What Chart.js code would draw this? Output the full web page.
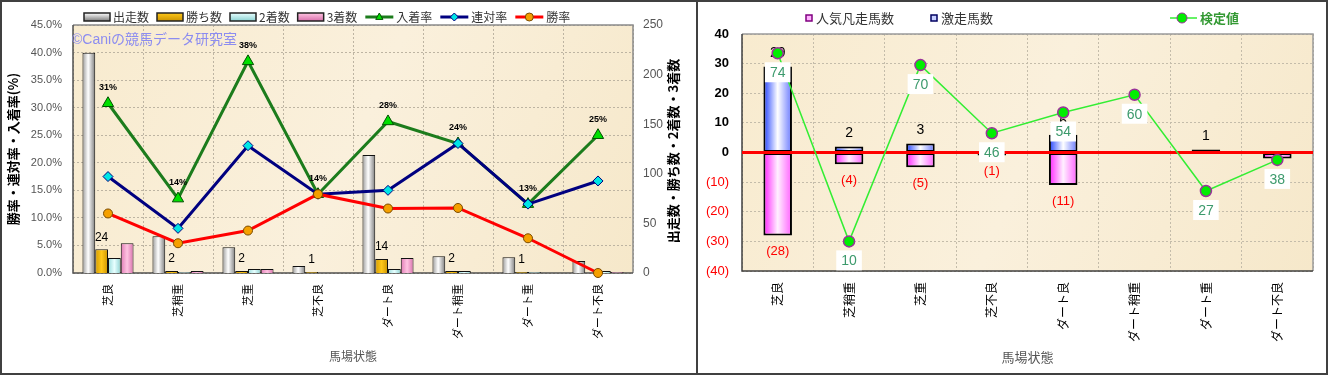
<!DOCTYPE html>
<html>
<head>
<meta charset="utf-8">
<script src="https://cdn.jsdelivr.net/npm/chart.js@4.4.1/dist/chart.umd.min.js"></script>
<style>
  html, body { margin: 0; padding: 0; background: #fff; }
  #wrap { width: 1328px; height: 375px; box-sizing: border-box; border: 2px solid #404040; display: flex; background: #fff; }
  #sep { width: 2px; height: 371px; background: #404040; }
  canvas { display: block; }
</style>
</head>
<body>
<div id="wrap">
  <canvas id="leftChart" width="694" height="371"></canvas>
  <div id="sep"></div>
  <canvas id="rightChart" width="628" height="371"></canvas>
</div>
<script>
// ---- data ----
const categories = ['芝良', '芝稍重', '芝重', '芝不良', 'ダート良', 'ダート稍重', 'ダート重', 'ダート不良'];

// left chart: counts (right axis) and rates in % (left axis)
const runners = [222, 37, 26, 7, 119, 17, 16, 12];
const wins = [24, 2, 2, 1, 14, 2, 1, 0];
const seconds = [15, 1, 4, 0, 4, 2, 1, 2];
const thirds = [30, 2, 4, 0, 15, 0, 0, 1];
const placeRate = [30.8, 13.5, 38.4, 14.3, 27.5, 23.5, 12.5, 25.0];
const quinellaRate = [17.5, 8.1, 23.1, 14.3, 15.0, 23.5, 12.5, 16.7];
const winRate = [10.8, 5.4, 7.7, 14.3, 11.7, 11.8, 6.3, 0];
const rateMax = 45, rateStep = 5;
const countMax = 250, countStep = 50;

// right chart
const flopHorses = [-28, -4, -5, -1, -11, 0, 0, -2];   // 人気凡走馬数
const upsetHorses = [29, 2, 3, 0, 6, 0, 1, 0];        // 激走馬数
const testPoint = [33.5, -30, 29.5, 6.5, 13.5, 19.5, -13, -2.5]; // 検定値 plotted position
const testValue = [74, 10, 70, 46, 54, 60, 27, 38];              // 検定値 label
const diffMin = -40, diffMax = 40, diffStep = 10;

const FONT = "'Liberation Sans', 'Noto Sans CJK JP', sans-serif";
const JP = "'Noto Sans CJK JP', sans-serif";

// horizontal "cylinder" gradient for each bar, position taken from the x scale
function barGrad(ctx, k, n, catPct, stops) {
  const flat = stops[1][1];
  if (ctx.type !== 'data') return flat;
  const chart = ctx.chart, xs = chart.scales.x;
  if (!xs || !xs.width) return flat;
  const step = xs.width / categories.length;
  const group = step * catPct;
  const w = group / n;
  const left = xs.getPixelForValue(ctx.dataIndex) - group / 2 + w * k;
  const g = chart.ctx.createLinearGradient(left, 0, left + w, 0);
  stops.forEach(s => g.addColorStop(s[0], s[1]));
  return g;
}

const GRAY = [[0, '#9a9a9a'], [0.45, '#ffffff'], [1, '#7c7c7c']];
const GOLD = [[0, '#d49c00'], [0.5, '#ffc81a'], [1, '#cc9400']];
const CYAN = [[0, '#98dcdc'], [0.5, '#e8ffff'], [1, '#8cd2d2']];
const PINK = [[0, '#e07ab4'], [0.5, '#ffc4e2'], [1, '#d870ac']];
const BLUE = [[0, '#2040ff'], [0.5, '#ffffff'], [1, '#6878ff']];
const MAGENTA = [[0, '#ff20ff'], [0.5, '#fff0ff'], [1, '#ff60ff']];

function fillPlot(chart) {
  const { ctx, chartArea: a } = chart;
  ctx.save();
  const g = ctx.createLinearGradient(a.left, a.top, a.right, a.bottom);
  g.addColorStop(0, '#f8ebcf');
  g.addColorStop(0.5, '#faf0dc');
  g.addColorStop(1, '#f6e8ca');
  ctx.fillStyle = g;
  ctx.fillRect(a.left, a.top, a.right - a.left, a.bottom - a.top);
  ctx.restore();
}

function drawFrame(chart, light, dark) {
  const { ctx, chartArea: a } = chart;
  ctx.save();
  ctx.lineWidth = 1.5;
  ctx.strokeStyle = light;
  ctx.beginPath();
  ctx.moveTo(a.left, a.top); ctx.lineTo(a.right, a.top); ctx.lineTo(a.right, a.bottom);
  ctx.stroke();
  ctx.strokeStyle = dark;
  ctx.beginPath();
  ctx.moveTo(a.left, a.top); ctx.lineTo(a.left, a.bottom); ctx.lineTo(a.right, a.bottom);
  ctx.stroke();
  ctx.restore();
}

function marker(c, style, x, y, r, fill, stroke) {
  c.beginPath();
  if (style === 'triangle') {
    c.moveTo(x, y - r); c.lineTo(x + r * 0.9, y + r * 0.6); c.lineTo(x - r * 0.9, y + r * 0.6); c.closePath();
  } else if (style === 'rectRot') {
    c.moveTo(x, y - r); c.lineTo(x + r, y); c.lineTo(x, y + r); c.lineTo(x - r, y); c.closePath();
  } else {
    c.arc(x, y, r, 0, Math.PI * 2);
  }
  c.fillStyle = fill; c.fill();
  c.lineWidth = 1; c.strokeStyle = stroke; c.stroke();
}

// ---- left chart ----
const leftLegend = [
  { kind: 'bar', text: '出走数', stops: GRAY },
  { kind: 'bar', text: '勝ち数', stops: GOLD },
  { kind: 'bar', text: '2着数', stops: CYAN },
  { kind: 'bar', text: '3着数', stops: PINK },
  { kind: 'line', text: '入着率', color: '#1c7c1c', style: 'triangle', fill: '#00e000', stroke: '#005000' },
  { kind: 'line', text: '連対率', color: '#000080', style: 'rectRot', fill: '#00e5e5', stroke: '#000080' },
  { kind: 'line', text: '勝率', color: '#ff0000', style: 'circle', fill: '#f5a000', stroke: '#7a4a00' }
];

const leftDecor = {
  id: 'leftDecor',
  beforeDraw(chart) { fillPlot(chart); },
  beforeDatasetsDraw(chart) {
    const { ctx, chartArea: a } = chart;
    drawFrame(chart, '#8a8a8a', '#505050');
    ctx.save();
    ctx.font = '14px ' + FONT;
    ctx.fillStyle = '#8c8cf0';
    ctx.textBaseline = 'middle';
    ctx.fillText('©Caniの競馬データ研究室', a.left - 1, a.top + 15);
    ctx.restore();
  },
  afterDatasetsDraw(chart) {
    const ctx = chart.ctx;
    ctx.save();
    ctx.textAlign = 'center';
    ctx.textBaseline = 'middle';
    ctx.fillStyle = '#000';
    // win counts above the win bars
    ctx.font = '12px ' + FONT;
    chart.getDatasetMeta(1).data.forEach((el, i) => {
      if (wins[i] > 0) ctx.fillText(String(wins[i]), el.x, el.y - 12);
    });
    // place rate labels above triangles
    ctx.font = 'bold 9px ' + FONT;
    chart.getDatasetMeta(6).data.forEach((el, i) => {
      ctx.fillText(Math.round(placeRate[i]) + '%', el.x, el.y - 16);
    });
    // right axis title, reading bottom to top
    const a = chart.chartArea;
    ctx.translate(671, (a.top + a.bottom) / 2 + 2);
    ctx.rotate(-Math.PI / 2);
    ctx.font = 'bold 13px ' + JP;
    ctx.fillText('出走数・勝ち数・2着数・3着数', 0, 0);
    ctx.restore();
    // legend
    ctx.save();
    ctx.font = '12px ' + JP;
    ctx.textBaseline = 'middle';
    let x = 82; const y = 15;
    leftLegend.forEach(it => {
      if (it.kind === 'bar') {
        const g = ctx.createLinearGradient(0, y - 4, 0, y + 4);
        g.addColorStop(0, it.stops[1][1]);
        g.addColorStop(1, it.stops[2][1]);
        ctx.fillStyle = g;
        ctx.fillRect(x, y - 4, 26, 8);
        ctx.lineWidth = 1.5; ctx.strokeStyle = '#222';
        ctx.strokeRect(x, y - 4, 26, 8);
        x += 29;
      } else {
        ctx.strokeStyle = it.color; ctx.lineWidth = 3;
        ctx.beginPath(); ctx.moveTo(x, y); ctx.lineTo(x + 28, y); ctx.stroke();
        marker(ctx, it.style, x + 14, y, 4, it.fill, it.stroke);
        x += 31;
      }
      ctx.fillStyle = '#333';
      ctx.fillText(it.text, x, y);
      x += ctx.measureText(it.text).width + 8;
    });
    ctx.restore();
  }
};

const barCommon = { yAxisID: 'y1', borderColor: '#111', borderWidth: 1, categoryPercentage: 0.73, barPercentage: 1, order: 3 };

new Chart(document.getElementById('leftChart'), {
  type: 'bar',
  data: {
    labels: categories,
    datasets: [
      { ...barCommon, label: '出走数', data: runners, backgroundColor: c => barGrad(c, 0, 4, 0.73, GRAY) },
      { ...barCommon, label: '勝ち数', data: wins, backgroundColor: c => barGrad(c, 1, 4, 0.73, GOLD) },
      { ...barCommon, label: '2着数', data: seconds, backgroundColor: c => barGrad(c, 2, 4, 0.73, CYAN) },
      { ...barCommon, label: '3着数', data: thirds, backgroundColor: c => barGrad(c, 3, 4, 0.73, PINK) },
      { type: 'line', label: '勝率', data: winRate, yAxisID: 'y', borderColor: '#ff0000', borderWidth: 3,
        pointStyle: 'circle', pointRadius: 4.5, pointBackgroundColor: '#f5a000', pointBorderColor: '#7a4a00',
        pointBorderWidth: 1, order: 0, clip: false },
      { type: 'line', label: '連対率', data: quinellaRate, yAxisID: 'y', borderColor: '#000080', borderWidth: 3,
        pointStyle: 'rectRot', pointRadius: 5, pointBackgroundColor: '#00e5e5', pointBorderColor: '#000080',
        pointBorderWidth: 1, order: 1, clip: false },
      { type: 'line', label: '入着率', data: placeRate, yAxisID: 'y', borderColor: '#1c7c1c', borderWidth: 3,
        pointStyle: 'triangle', pointRadius: 6.5, pointBackgroundColor: '#00e000', pointBorderColor: '#005000',
        pointBorderWidth: 1, order: 2, clip: false }
    ]
  },
  options: {
    responsive: false,
    animation: false,
    layout: { padding: { top: 23, left: 0, right: 0, bottom: 0 } },
    plugins: { legend: { display: false }, tooltip: { enabled: false } },
    scales: {
      x: {
        offset: true,
        grid: { offset: true, color: '#bdb4a2', drawTicks: false },
        border: { display: false, dash: [2, 2] },
        ticks: { minRotation: 90, maxRotation: 90, autoSkip: false, padding: 11, color: '#000',
          font: { family: JP, size: 11 } },
        title: { display: true, text: '馬場状態', color: '#555', font: { family: JP, size: 12 },
          padding: { top: 0, bottom: 9 } },
        afterFit: s => { s.height = 100; }
      },
      y: {
        position: 'left', min: 0, max: rateMax,
        grid: { color: '#bdb4a2', drawTicks: false },
        border: { display: false, dash: [2, 2] },
        ticks: { stepSize: rateStep, padding: 11, color: '#555', font: { family: FONT, size: 11 },
          callback: v => v.toFixed(1) + '%' },
        title: { display: true, text: '勝率・連対率・入着率(%)', color: '#000',
          font: { family: JP, size: 13, weight: 'bold' }, padding: { top: 3, bottom: 0 } },
        afterFit: s => { s.width = 71; }
      },
      y1: {
        position: 'right', min: 0, max: countMax,
        grid: { display: false, drawTicks: false },
        border: { display: false },
        ticks: { stepSize: countStep, padding: 10, color: '#555', font: { family: FONT, size: 12 } },
        afterFit: s => { s.width = 63; }
      }
    }
  },
  plugins: [leftDecor]
});

// ---- right chart ----
const rightDecor = {
  id: 'rightDecor',
  beforeDraw(chart) { fillPlot(chart); },
  beforeDatasetsDraw(chart) { drawFrame(chart, '#9a9a9a', '#404040'); },
  beforeDatasetDraw(chart, args) {
    if (args.meta.type !== 'line') return;
    const { ctx, chartArea: a, scales } = chart;
    const y0 = scales.y.getPixelForValue(0);
    ctx.save();
    ctx.strokeStyle = '#ff0000';
    ctx.lineWidth = 3;
    ctx.beginPath(); ctx.moveTo(a.left, y0); ctx.lineTo(a.right, y0); ctx.stroke();
    // bar value labels
    ctx.textAlign = 'center';
    ctx.textBaseline = 'middle';
    ctx.font = '14px ' + FONT;
    ctx.fillStyle = '#000';
    chart.getDatasetMeta(2).data.forEach((el, i) => {
      if (upsetHorses[i] > 0) ctx.fillText(String(upsetHorses[i]), el.x, el.y - 13);
    });
    ctx.font = '13px ' + FONT;
    ctx.fillStyle = '#ff0000';
    chart.getDatasetMeta(1).data.forEach((el, i) => {
      if (flopHorses[i] < 0) ctx.fillText('(' + (-flopHorses[i]) + ')', el.x, el.y + 16);
    });
    ctx.restore();
  },
  afterDatasetsDraw(chart) {
    const ctx = chart.ctx;
    ctx.save();
    ctx.textAlign = 'center';
    ctx.textBaseline = 'middle';
    ctx.font = '14px ' + FONT;
    chart.getDatasetMeta(0).data.forEach((el, i) => {
      const t = String(testValue[i]);
      const w = ctx.measureText(t).width + 10;
      const cy = el.y + 19;
      ctx.fillStyle = '#ffffff';
      ctx.fillRect(el.x - w / 2, cy - 10, w, 20);
      ctx.fillStyle = '#3c9a6c';
      ctx.fillText(t, el.x, cy + 1);
    });
    ctx.restore();
    // legend
    ctx.save();
    ctx.textBaseline = 'middle';
    const y = 16;
    ctx.font = '13px ' + JP;
    [[108, '人気凡走馬数', '#ffb0ff', '#800080'], [233, '激走馬数', '#c8d0ff', '#000060']].forEach(([x, t, fc, bc]) => {
      ctx.fillStyle = fc;
      ctx.fillRect(x, y - 3, 6, 6);
      ctx.lineWidth = 1.5; ctx.strokeStyle = bc;
      ctx.strokeRect(x, y - 3, 6, 6);
      ctx.fillStyle = '#333';
      ctx.fillText(t, x + 10, y);
    });
    ctx.strokeStyle = '#33ee33'; ctx.lineWidth = 1.5;
    ctx.beginPath(); ctx.moveTo(472, y); ctx.lineTo(499, y); ctx.stroke();
    marker(ctx, 'circle', 484, y, 5, '#00ee00', '#993399');
    ctx.fillStyle = '#339933';
    ctx.font = 'bold 13px ' + JP;
    ctx.fillText('検定値', 502, y);
    ctx.restore();
  }
};

const stackBar = {
  borderColor: '#000', borderSkipped: false, categoryPercentage: 0.4, barPercentage: 1, order: 1, stack: 's',
  borderWidth: c => (c.raw === 0 ? 0 : 2)
};

new Chart(document.getElementById('rightChart'), {
  type: 'bar',
  data: {
    labels: categories,
    datasets: [
      { type: 'line', label: '検定値', data: testPoint, borderColor: '#33ee33', borderWidth: 1.5,
        pointRadius: 5.5, pointBackgroundColor: '#00ee00', pointBorderColor: '#993399', pointBorderWidth: 1.5,
        order: 0, clip: false },
      { ...stackBar, label: '人気凡走馬数', data: flopHorses, backgroundColor: c => barGrad(c, 0, 1, 0.4, MAGENTA) },
      { ...stackBar, label: '激走馬数', data: upsetHorses, backgroundColor: c => barGrad(c, 0, 1, 0.4, BLUE) }
    ]
  },
  options: {
    responsive: false,
    animation: false,
    layout: { padding: { top: 32, left: 0, right: 13, bottom: 0 } },
    plugins: { legend: { display: false }, tooltip: { enabled: false } },
    scales: {
      x: {
        stacked: true,
        offset: true,
        grid: { offset: true, color: '#c4bcaa', drawTicks: false },
        border: { display: false, dash: [2, 2] },
        ticks: { minRotation: 90, maxRotation: 90, autoSkip: false, padding: 11, color: '#000',
          font: { family: JP, size: 12 } },
        title: { display: true, text: '馬場状態', color: '#555', font: { family: JP, size: 13 },
          padding: { top: 0, bottom: 8 } },
        afterFit: s => { s.height = 102; }
      },
      y: {
        stacked: true,
        min: diffMin, max: diffMax,
        grid: { color: '#c4bcaa', drawTicks: false },
        border: { display: false, dash: [2, 2] },
        ticks: {
          stepSize: diffStep, padding: 13,
          color: c => (c.tick && c.tick.value < 0 ? '#ff0000' : '#000'),
          font: c => ({ family: FONT, size: 13, weight: c.tick && c.tick.value < 0 ? 'normal' : 'bold' }),
          callback: v => (v < 0 ? '(' + (-v) + ')' : String(v))
        },
        afterFit: s => { s.width = 44; }
      }
    }
  },
  plugins: [rightDecor]
});
</script>
</body>
</html>
